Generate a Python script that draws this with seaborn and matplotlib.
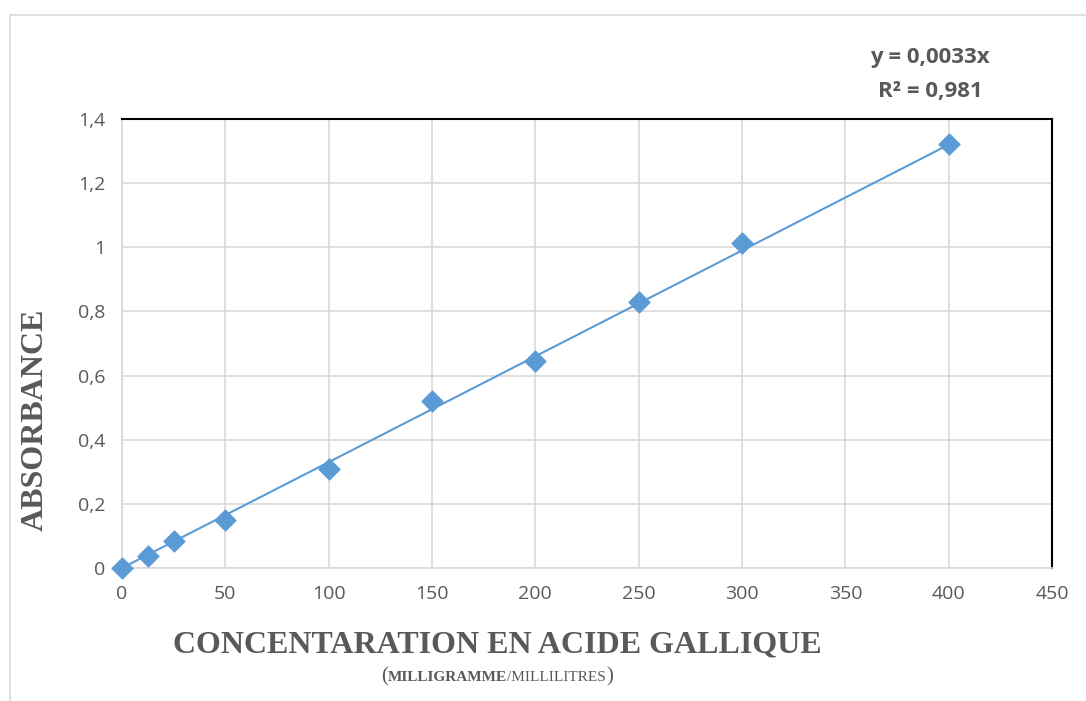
import matplotlib
matplotlib.use("Agg")
import matplotlib.pyplot as plt
import matplotlib.patches as mpatches
import numpy as np
import pandas as pd
import seaborn as sns

# data
concentration = [0, 12.5, 25, 50, 100, 150, 200, 250, 300, 400]
absorbance = [0, 0.038, 0.085, 0.15, 0.308, 0.52, 0.645, 0.828, 1.012, 1.322]
slope = 0.0033
x_ticks = [0, 50, 100, 150, 200, 250, 300, 350, 400, 450]
y_ticks = [0, 0.2, 0.4, 0.6, 0.8, 1.0, 1.2, 1.4]
y_tick_labels = ["0", "0,2", "0,4", "0,6", "0,8", "1", "1,2", "1,4"]

df = pd.DataFrame({"x": concentration, "y": absorbance})
trend = pd.DataFrame({"x": [0, max(concentration)]})
trend["y"] = slope * trend["x"]

sns.set_style("white")
plt.rcParams["font.family"] = ["Open Sans", "DejaVu Sans"]

grey = "#595959"
blue = "#5B9BD5"

fig = plt.figure(figsize=(10.86, 7.01), dpi=100)
ax = fig.add_axes([122 / 1086, 1 - 568 / 701, 930 / 1086, 449 / 701])

# light outer frame of the chart area
fig.patches.append(mpatches.Rectangle((10 / 1086, -0.1), 1.2, 1 - 15 / 701 + 0.1,
                                      transform=fig.transFigure, fill=False,
                                      edgecolor="#D9D9D9", linewidth=1.2))

sns.lineplot(data=trend, x="x", y="y", ax=ax, color=blue, linewidth=1.5, zorder=3)
sns.scatterplot(data=df, x="x", y="y", ax=ax, marker="D", s=115, color=blue,
                edgecolor=blue, zorder=4, clip_on=False)

ax.set_xlim(0, 450)
ax.set_ylim(0, 1.4)
ax.set_xticks(x_ticks)
ax.set_xticklabels([str(t) for t in x_ticks], fontsize=14, color=grey)
ax.set_yticks(y_ticks)
ax.set_yticklabels(y_tick_labels, fontsize=14, color=grey)
ax.tick_params(axis="both", length=0, pad=12)

ax.grid(True, color="#D9D9D9", linewidth=1.2)
ax.set_axisbelow(True)
for side in ["top", "right"]:
    ax.spines[side].set_color("black")
    ax.spines[side].set_linewidth(1.5)
for side in ["left", "bottom"]:
    ax.spines[side].set_color("#D9D9D9")
    ax.spines[side].set_linewidth(1.2)

ax.set_xlabel("")
ax.set_ylabel("")

fig.text(497 / 1086, 1 - 645 / 701, "CONCENTARATION EN ACIDE GALLIQUE",
         family="Liberation Serif", weight="bold", fontsize=23, color=grey,
         ha="center", va="center")
fig.text(35 / 1086, 1 - 420 / 701, "ABSORBANCE",
         family="Liberation Serif", weight="bold", fontsize=23, color=grey,
         ha="center", va="center", rotation=90)

# unit line: big brackets, bold first part, plain second part
renderer = fig.canvas.get_renderer()
parts = [("(", 15, "normal"), ("MILLIGRAMME", 11, "bold"),
         ("/MILLILITRES", 11, "normal"), (")", 15, "normal")]
texts = []
for s, size, w in parts:
    t = fig.text(0, 1 - 681 / 701, s, family="Liberation Serif", weight=w,
                 fontsize=size, color=grey, ha="left", va="baseline")
    texts.append(t)
widths = [t.get_window_extent(renderer).width for t in texts]
x0 = 497 - sum(widths) / 2
for t, w in zip(texts, widths):
    t.set_x(x0 / 1086)
    x0 += w

fig.text(930 / 1086, 1 - 58 / 701, "y = 0,0033x", weight="bold", fontsize=16,
         color=grey, ha="center", va="center")
fig.text(930 / 1086, 1 - 92 / 701, "R² = 0,981", weight="bold", fontsize=16,
         color=grey, ha="center", va="center")

fig.savefig("out.png", dpi=100)
